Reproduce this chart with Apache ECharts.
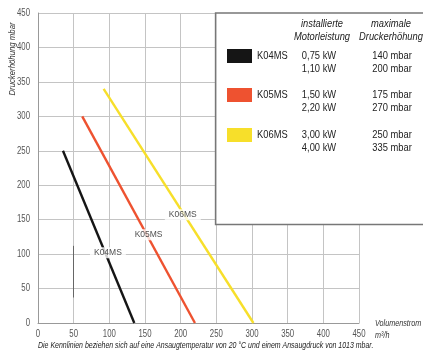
<!DOCTYPE html>
<html><head><meta charset="utf-8">
<script src="https://cdn.jsdelivr.net/npm/echarts@6/dist/echarts.min.js"></script>
<style>html,body{margin:0;padding:0;background:#fff}#c{width:423px;height:351px}</style>
</head><body><div id="c"></div>
<script>
const xTicks = [0, 50, 100, 150, 200, 250, 300, 350, 400, 450];
const yTicks = [0, 50, 100, 150, 200, 250, 300, 350, 400, 450];
const seriesNames = ['K04MS', 'K05MS', 'K06MS'];
const k04 = [[35, 250], [135, 0]];
const k05 = [[62, 300], [220, 0]];
const k06 = [[92, 340], [302, 0]];
const labelPos = [[98, 102], [155, 128], [203, 157]];
const powerRows = [['0,75 kW', '1,10 kW'], ['1,50 kW', '2,20 kW'], ['3,00 kW', '4,00 kW']];
const pressureRows = [['140 mbar', '200 mbar'], ['175 mbar', '270 mbar'], ['250 mbar', '335 mbar']];
const colors = ['#151515', '#EE5230', '#F7DF2A'];
const boxCorner = [249, 143];
const markSeg = [[50, 112], [50, 37]];

const chart = echarts.init(document.getElementById('c'));
const F = '"Liberation Sans", Arial, sans-serif';
const lineData = [k04, k05, k06];
const series = lineData.map((d, i) => ({
  type: 'line', name: seriesNames[i], data: d, symbol: 'none',
  lineStyle: { color: colors[i], width: 2.4 }, z: 3, silent: true
}));
series[0].markLine = {
  symbol: 'none', silent: true, label: { show: false },
  lineStyle: { color: '#666', width: 1, type: 'solid' },
  data: [[{ coord: markSeg[0] }, { coord: markSeg[1] }]]
};
series.push({
  type: 'scatter', symbolSize: 0, z: 4, silent: true,
  data: labelPos.map((p, i) => ({ value: p, name: seriesNames[i] })),
  label: { show: true, position: 'inside', formatter: '{b}', fontFamily: F, fontSize: 8.5,
    color: '#222', backgroundColor: '#fff', padding: [1, 4] }
});
chart.setOption({
  animation: false,
  grid: { left: 38, right: 64, top: 13, bottom: 28 },
  xAxis: { type: 'value', min: 0, max: 450, interval: 50,
    axisLine: { show: true, lineStyle: { color: '#999' } }, axisTick: { show: false },
    splitLine: { lineStyle: { color: '#c4c4c4', width: 1 } }, axisLabel: { show: false } },
  yAxis: { type: 'value', min: 0, max: 450, interval: 50,
    axisLine: { show: true, lineStyle: { color: '#999' } }, axisTick: { show: false },
    splitLine: { lineStyle: { color: '#c4c4c4', width: 1 } }, axisLabel: { show: false } },
  series: series
});

const c = chart.convertToPixel({ gridIndex: 0 }, boxCorner);
const bx = c[0], by = c[1];
const g = [];
g.push({ type: 'rect', z: 10, shape: { x: bx, y: 13, width: 423 - bx + 5, height: by - 13 },
  style: { fill: '#fff', stroke: '#777', lineWidth: 1.6 } });
function T(x, y, text, opt, sx, rot) {
  g.push({ type: 'text', z: 11, x: x, y: y, scaleX: sx || 0.85, rotation: rot || 0,
    style: Object.assign({ text: text, fill: '#222', fontFamily: F, fontSize: 11,
      textAlign: 'center', textVerticalAlign: 'middle' }, opt || {}) });
}
xTicks.forEach(v => {
  const p = chart.convertToPixel({ gridIndex: 0 }, [v, 0]);
  T(p[0], 334, String(v), { fontSize: 10, fill: '#555' }, 0.78);
});
yTicks.forEach(v => {
  const p = chart.convertToPixel({ gridIndex: 0 }, [0, v]);
  T(30, p[1], String(v), { fontSize: 10, fill: '#555', textAlign: 'right' }, 0.78);
});
T(322, 24, 'installierte', { fontStyle: 'italic' });
T(322, 37, 'Motorleistung', { fontStyle: 'italic' });
T(391, 24, 'maximale', { fontStyle: 'italic' });
T(391, 37, 'Druckerhöhung', { fontStyle: 'italic' });
const rowY = [56, 95, 135];
seriesNames.forEach((n, i) => {
  const y = rowY[i];
  g.push({ type: 'rect', z: 11, shape: { x: 227, y: y - 7, width: 25, height: 14 },
    style: { fill: colors[i] } });
  T(257, y, n, { textAlign: 'left' });
  T(319, y, powerRows[i][0]);
  T(319, y + 13, powerRows[i][1]);
  T(392, y, pressureRows[i][0]);
  T(392, y + 13, pressureRows[i][1]);
});
T(12, 59, 'Druckerhöhung mbar', { fontSize: 9.5, fontStyle: 'italic', fill: '#333' }, 0.82, Math.PI / 2);
T(375, 323, 'Volumenstrom', { textAlign: 'left', fontStyle: 'italic', fontSize: 9, fill: '#333' }, 0.8);
T(375, 335, 'm³/h', { textAlign: 'left', fontStyle: 'italic', fontSize: 9, fill: '#333' }, 0.8);
T(38, 346, 'Die Kennlinien beziehen sich auf eine Ansaugtemperatur von 20 °C und einem Ansaugdruck von 1013 mbar.',
  { fontSize: 8.5, fontStyle: 'italic', textAlign: 'left' }, 0.82);
chart.setOption({ graphic: g });
</script></body></html>
